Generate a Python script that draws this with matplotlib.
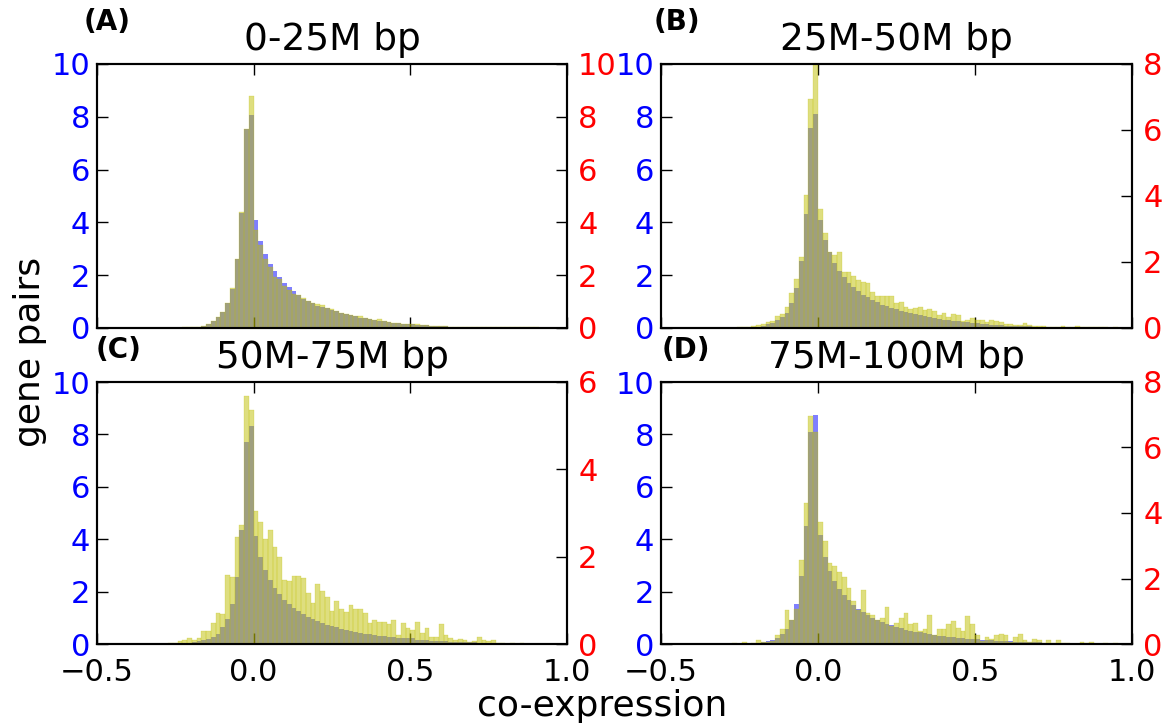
import matplotlib.pyplot as plt
import numpy as np

# bin edges of the co-expression histograms
edges = np.linspace(-0.5, 1.0, 100)
centers = (edges[:-1] + edges[1:]) / 2

# normalised counts per bin (blue: left axis, yellow: right axis)
A_blue = [0.0] * 10 + [
    0.01, 0.01, 0.01, 0.01, 0.01, 0.01, 0.01, 0.01, 0.01, 0.02,
    0.03, 0.05, 0.09, 0.16, 0.27, 0.42, 0.61, 0.94, 1.49, 2.60,
    4.36, 7.53, 8.07, 4.08, 3.29, 2.79, 2.41, 2.16, 1.92, 1.71,
    1.54, 1.39, 1.26, 1.09, 1.04, 0.95, 0.83, 0.80, 0.76, 0.67,
    0.63, 0.58, 0.53, 0.51, 0.45, 0.39, 0.39, 0.34, 0.29, 0.27,
    0.25, 0.23, 0.20, 0.18, 0.16, 0.16, 0.14, 0.13, 0.12, 0.11,
    0.09, 0.08, 0.07, 0.06, 0.05, 0.05, 0.04, 0.04, 0.03, 0.03,
    0.02, 0.02, 0.02, 0.02, 0.02, 0.02, 0.02, 0.02, 0.02, 0.02,
    0.02, 0.02, 0.01, 0.01, 0.01, 0.01, 0.01, 0.01, 0.01]
A_yellow = [0.0] * 10 + [
    0.01, 0.01, 0.01, 0.01, 0.01, 0.01, 0.01, 0.01, 0.04, 0.02,
    0.03, 0.05, 0.09, 0.17, 0.28, 0.43, 0.62, 0.95, 1.50, 2.62,
    4.39, 7.53, 8.79, 3.70, 3.14, 2.63, 2.30, 1.93, 1.87, 1.58,
    1.45, 1.29, 1.26, 1.14, 1.04, 0.95, 0.90, 0.86, 0.76, 0.72,
    0.63, 0.58, 0.53, 0.51, 0.46, 0.44, 0.39, 0.33, 0.29, 0.33,
    0.25, 0.23, 0.20, 0.20, 0.16, 0.15, 0.14, 0.14, 0.13, 0.11,
    0.09, 0.08, 0.07, 0.06, 0.05, 0.04, 0.04, 0.03, 0.03, 0.03,
    0.02, 0.02, 0.02, 0.02, 0.02, 0.02, 0.02, 0.02, 0.02, 0.02,
    0.02, 0.02, 0.02, 0.01, 0.01, 0.01, 0.01, 0.01, 0.01]

B_blue = [0.0] * 10 + [
    0.0, 0.0, 0.01, 0.01, 0.01, 0.01, 0.01, 0.01, 0.02, 0.03,
    0.05, 0.09, 0.14, 0.19, 0.29, 0.42, 0.57, 0.94, 1.50, 2.53,
    4.30, 7.59, 8.10, 4.08, 3.32, 2.86, 2.45, 2.15, 1.92, 1.69,
    1.54, 1.39, 1.24, 1.16, 1.05, 0.97, 0.86, 0.82, 0.75, 0.71,
    0.63, 0.59, 0.56, 0.52, 0.48, 0.44, 0.40, 0.37, 0.33, 0.32,
    0.29, 0.28, 0.25, 0.24, 0.21, 0.20, 0.18, 0.17, 0.14, 0.13,
    0.12, 0.10, 0.09, 0.09, 0.08, 0.07, 0.06, 0.06, 0.05, 0.05,
    0.04, 0.04, 0.03, 0.03, 0.02, 0.02, 0.02, 0.02, 0.02, 0.02,
    0.02, 0.01, 0.01, 0.01, 0.01, 0.01, 0.01, 0.01, 0.01]
B_yellow = [0.0] * 10 + [
    0.0, 0.01, 0.01, 0.01, 0.01, 0.01, 0.02, 0.02, 0.03, 0.05,
    0.09, 0.13, 0.19, 0.21, 0.35, 0.43, 0.63, 1.05, 1.48, 2.14,
    4.02, 6.94, 7.97, 3.60, 2.87, 2.30, 2.20, 2.30, 1.69, 1.69,
    1.57, 1.45, 1.39, 1.35, 1.08, 0.96, 0.96, 0.96, 0.96, 0.75,
    0.78, 0.63, 0.57, 0.60, 0.63, 0.54, 0.57, 0.51, 0.38, 0.44,
    0.32, 0.41, 0.38, 0.20, 0.23, 0.29, 0.23, 0.23, 0.17, 0.23,
    0.20, 0.17, 0.13, 0.11, 0.08, 0.08, 0.14, 0.10, 0.07, 0.06,
    0.05, 0.04, 0.04, 0.04, 0.05, 0.03, 0.03, 0.05, 0.02, 0.03,
    0.02, 0.03, 0.02, 0.02, 0.01, 0.02, 0.01, 0.01, 0.01]

C_blue = [0.0] * 10 + [
    0.0, 0.0, 0.01, 0.01, 0.01, 0.02, 0.02, 0.03, 0.04, 0.05,
    0.06, 0.10, 0.14, 0.19, 0.28, 0.38, 0.63, 0.96, 1.54, 2.56,
    4.35, 7.72, 8.31, 4.12, 3.32, 2.83, 2.45, 2.14, 1.92, 1.69,
    1.54, 1.38, 1.27, 1.15, 1.04, 0.96, 0.89, 0.81, 0.74, 0.70,
    0.66, 0.58, 0.55, 0.51, 0.47, 0.43, 0.39, 0.39, 0.36, 0.32,
    0.31, 0.28, 0.27, 0.24, 0.23, 0.22, 0.21, 0.17, 0.17, 0.16,
    0.13, 0.13, 0.12, 0.12, 0.09, 0.09, 0.08, 0.08, 0.09, 0.06,
    0.05, 0.05, 0.05, 0.05, 0.05, 0.02, 0.02, 0.02, 0.02, 0.02,
    0.02, 0.01, 0.01, 0.01, 0.01, 0.01, 0.01, 0.01, 0.01]
C_yellow = [0.0] * 10 + [
    0.0, 0.01, 0.01, 0.01, 0.01, 0.03, 0.02, 0.06, 0.10, 0.14,
    0.10, 0.14, 0.30, 0.30, 0.48, 0.71, 0.69, 1.58, 1.53, 2.45,
    2.73, 5.67, 5.35, 3.05, 2.80, 2.41, 2.61, 2.22, 2.00, 1.47,
    1.45, 1.56, 1.56, 1.52, 1.17, 0.94, 1.38, 1.22, 1.08, 0.76,
    0.99, 0.81, 0.74, 0.90, 0.81, 0.81, 0.72, 0.49, 0.56, 0.51,
    0.51, 0.46, 0.56, 0.21, 0.49, 0.37, 0.33, 0.51, 0.26, 0.37,
    0.17, 0.17, 0.46, 0.21, 0.14, 0.10, 0.12, 0.10, 0.05, 0.08,
    0.17, 0.10, 0.08, 0.10, 0.02, 0.02, 0.01, 0.02, 0.01, 0.03,
    0.01, 0.01, 0.01, 0.01, 0.01, 0.01, 0.01, 0.01, 0.01]

D_blue = [0.0] * 10 + [
    0.0, 0.0, 0.0, 0.01, 0.01, 0.01, 0.01, 0.02, 0.02, 0.03,
    0.04, 0.06, 0.10, 0.14, 0.23, 0.39, 0.58, 0.93, 1.54, 2.60,
    4.52, 8.10, 8.73, 4.16, 3.32, 2.79, 2.41, 2.11, 1.88, 1.69,
    1.50, 1.35, 1.23, 1.12, 1.00, 0.93, 0.85, 0.77, 0.74, 0.66,
    0.62, 0.55, 0.51, 0.47, 0.45, 0.43, 0.39, 0.36, 0.32, 0.31,
    0.28, 0.27, 0.24, 0.23, 0.20, 0.20, 0.20, 0.16, 0.15, 0.15,
    0.13, 0.12, 0.11, 0.13, 0.09, 0.09, 0.08, 0.09, 0.07, 0.06,
    0.05, 0.05, 0.05, 0.05, 0.05, 0.05, 0.02, 0.02, 0.02, 0.02,
    0.02, 0.01, 0.01, 0.01, 0.01, 0.01, 0.01, 0.01, 0.01]
D_yellow = [0.0] * 10 + [
    0.0, 0.0, 0.0, 0.01, 0.01, 0.03, 0.01, 0.07, 0.01, 0.02,
    0.13, 0.06, 0.05, 0.08, 0.28, 0.47, 1.05, 0.74, 1.08, 2.57,
    4.31, 6.95, 6.48, 3.73, 3.15, 2.48, 2.39, 2.20, 2.05, 1.72,
    1.32, 1.05, 1.65, 0.95, 0.89, 0.74, 0.80, 1.14, 0.56, 0.65,
    0.80, 0.95, 0.62, 0.65, 0.41, 0.47, 0.89, 0.28, 0.47, 0.47,
    0.62, 0.71, 0.50, 0.41, 0.86, 0.62, 0.28, 0.10, 0.22, 0.16,
    0.28, 0.31, 0.28, 0.07, 0.22, 0.31, 0.13, 0.07, 0.16, 0.13,
    0.04, 0.13, 0.04, 0.13, 0.04, 0.02, 0.01, 0.01, 0.07, 0.02,
    0.07, 0.01, 0.01, 0.04, 0.01, 0.04, 0.01, 0.01, 0.01]

letters = ['(A)', '(B)', '(C)', '(D)']
titles = ['0-25M bp', '25M-50M bp', '50M-75M bp', '75M-100M bp']
blues = [A_blue, B_blue, C_blue, D_blue]
yellows = [A_yellow, B_yellow, C_yellow, D_yellow]
right_max = [10, 8, 6, 8]

W, H = 1169, 723
# axes boxes in pixels: left, top, right, bottom
boxes = [(97, 64, 567, 328), (661, 64, 1132, 328),
         (97, 382, 567, 644), (661, 382, 1132, 644)]
letter_pos = [(84, 8), (654, 8), (96, 336), (662, 336)]

fig = plt.figure(figsize=(11.69, 7.23), dpi=100)

for i in range(4):
    l, t, r, b = boxes[i]
    ax = fig.add_axes([l / W, 1 - b / H, (r - l) / W, (b - t) / H])
    ax.hist(centers, bins=edges, weights=blues[i], color='b', alpha=0.5,
            linewidth=0)
    ax.set_xlim(-0.5, 1.0)
    ax.set_ylim(0, 10)
    ax.set_xticks([-0.5, 0.0, 0.5, 1.0])
    ax.set_yticks(range(0, 11, 2))
    ax.tick_params(axis='y', labelcolor='b', direction='in', length=8,
                   width=1, left=True, right=False, labelsize=22, pad=5)
    ax.tick_params(axis='x', direction='in', top=True, length=8, width=1,
                   labelsize=22, pad=10, labelbottom=(i >= 2))
    ax.set_title(titles[i], fontsize=27, pad=10)

    ax2 = ax.twinx()
    ax2.hist(centers, bins=edges, weights=yellows[i], color='y', alpha=0.5,
             edgecolor='y', linewidth=0.3)
    ax2.set_ylim(0, right_max[i])
    ax2.set_yticks(range(0, right_max[i] + 1, 2))
    ax2.tick_params(axis='y', labelcolor='r', direction='in', length=8,
                    width=1, labelsize=22, pad=8)
    for a in (ax, ax2):
        for sp in a.spines.values():
            sp.set_linewidth(1.5)

    lx, ly = letter_pos[i]
    fig.text(lx / W, 1 - ly / H, letters[i], fontsize=20, fontweight='bold',
             va='top', ha='left')

fig.text(30 / W, 1 - 352 / H, 'gene pairs', fontsize=26, rotation=90,
         ha='center', va='center')
fig.text(602 / W, 1 - 706 / H, 'co-expression', fontsize=26,
         ha='center', va='center')

fig.savefig('out.png', dpi=100)
